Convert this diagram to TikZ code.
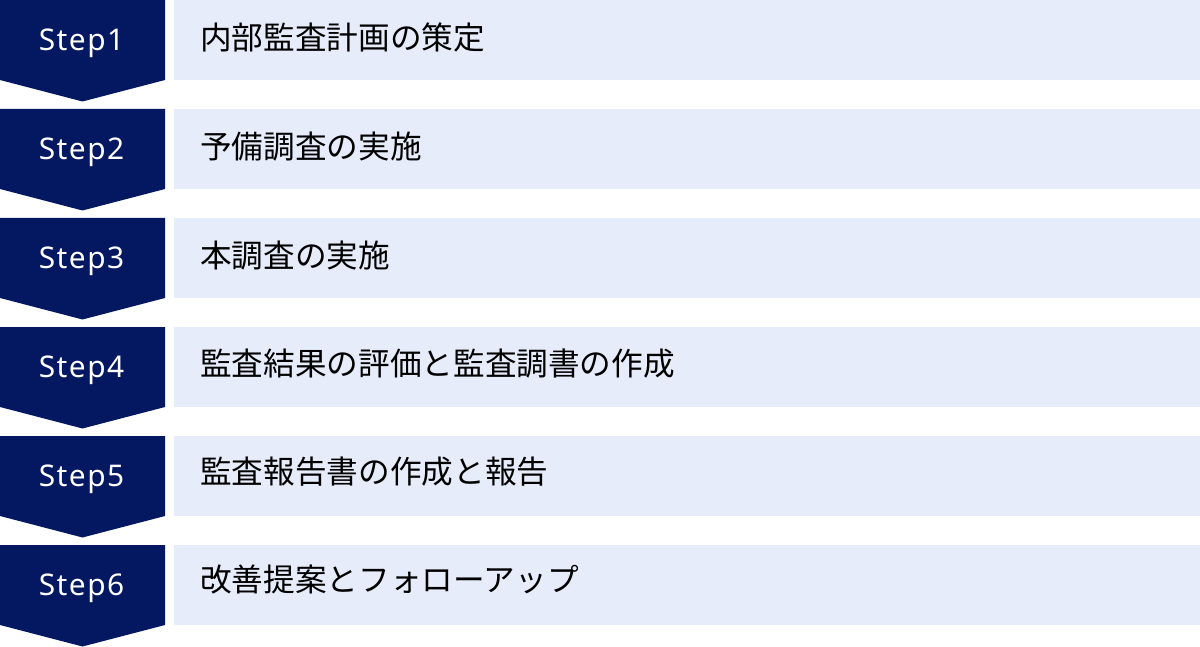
\documentclass[tikz,border=0pt]{standalone}
\usepackage{fontspec}
\setmainfont{Noto Sans}[LetterSpace=5]
\newfontfamily\jpfont{Noto Sans CJK JP}
\usepackage{color}
\definecolor{stepnavy}{RGB}{4,24,98}
\definecolor{taskbg}{RGB}{230,236,250}

\begin{document}
\begin{tikzpicture}[steplabel/.style={text=white,font=\fontsize{17}{19}\selectfont},
  tasklabel/.style={anchor=west,inner sep=0pt,font=\jpfont\fontsize{18}{20}\selectfont}]
\useasboundingbox (0,0) rectangle (24,-12.94);
% Step1
\fill[stepnavy] (0,0) -- ++(3.3,0) -- ++(0,-1.6) -- ++(-1.65,-0.43) -- ++(-1.65,0.43) -- cycle;
\fill[taskbg] (3.48,0) rectangle (24,-1.6);
\node[steplabel] (step1) at (1.63,-0.86) {Step1};
\node[tasklabel] (task1) at (4.0,-0.76) {内部監査計画の策定};
% Step2
\fill[stepnavy] (0,-2.18) -- ++(3.3,0) -- ++(0,-1.6) -- ++(-1.65,-0.43) -- ++(-1.65,0.43) -- cycle;
\fill[taskbg] (3.48,-2.18) rectangle (24,-3.78);
\node[steplabel] (step2) at (1.63,-3.04) {Step2};
\node[tasklabel] (task2) at (4.0,-2.94) {予備調査の実施};
% Step3
\fill[stepnavy] (0,-4.36) -- ++(3.3,0) -- ++(0,-1.6) -- ++(-1.65,-0.43) -- ++(-1.65,0.43) -- cycle;
\fill[taskbg] (3.48,-4.36) rectangle (24,-5.96);
\node[steplabel] (step3) at (1.63,-5.22) {Step3};
\node[tasklabel] (task3) at (4.0,-5.12) {本調査の実施};
% Step4
\fill[stepnavy] (0,-6.54) -- ++(3.3,0) -- ++(0,-1.6) -- ++(-1.65,-0.43) -- ++(-1.65,0.43) -- cycle;
\fill[taskbg] (3.48,-6.54) rectangle (24,-8.14);
\node[steplabel] (step4) at (1.63,-7.4) {Step4};
\node[tasklabel] (task4) at (4.0,-7.28) {監査結果の評価と監査調書の作成};
% Step5
\fill[stepnavy] (0,-8.72) -- ++(3.3,0) -- ++(0,-1.6) -- ++(-1.65,-0.43) -- ++(-1.65,0.43) -- cycle;
\fill[taskbg] (3.48,-8.72) rectangle (24,-10.32);
\node[steplabel] (step5) at (1.63,-9.58) {Step5};
\node[tasklabel] (task5) at (4.0,-9.44) {監査報告書の作成と報告};
% Step6
\fill[stepnavy] (0,-10.9) -- ++(3.3,0) -- ++(0,-1.6) -- ++(-1.65,-0.43) -- ++(-1.65,0.43) -- cycle;
\fill[taskbg] (3.48,-10.9) rectangle (24,-12.5);
\node[steplabel] (step6) at (1.63,-11.76) {Step6};
\node[tasklabel] (task6) at (4.0,-11.6) {改善提案とフォローアップ};
\end{tikzpicture}
\end{document}
